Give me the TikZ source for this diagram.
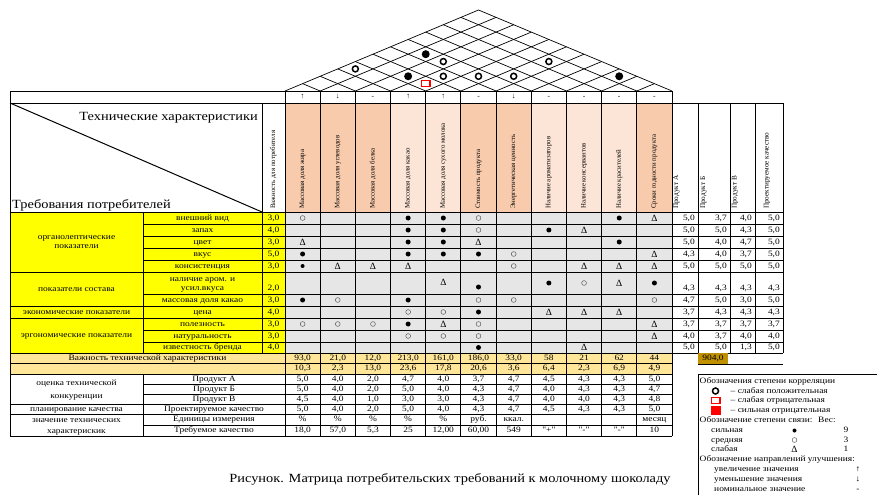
\documentclass[tikz,border=0pt]{standalone}
\usepackage{fontspec}
\setmainfont{Liberation Serif}
\newfontfamily\wfont[FakeStretch=1.15]{Liberation Serif}
\definecolor{salD}{HTML}{F8CBAD}
\definecolor{salL}{HTML}{FCE4D6}
\definecolor{cellG}{HTML}{E6E6E6}
\definecolor{yel}{HTML}{FFFF00}
\definecolor{goldL}{HTML}{FFE699}
\definecolor{goldD}{HTML}{BF9000}
\begin{document}
\begin{tikzpicture}[x=1pt,y=-1pt,
  ln/.style={line width=0.9pt, draw=black},
  tb/.style={font=\wfont\fontsize{8.2}{9}\selectfont, inner sep=0pt, text height=5.6pt, text depth=1.6pt},
  big/.style={font=\wfont\fontsize{12.5}{14}\selectfont, inner sep=0pt},
  rot/.style={rotate=90, anchor=west, inner sep=0pt, font=\fontsize{6.8}{7}\selectfont},
  rotp/.style={rotate=90, anchor=west, inner sep=0pt, font=\fontsize{7.2}{8}\selectfont},
  arr/.style={inner sep=0pt, font=\fontsize{7.5}{8}\selectfont},
  symF/.style={circle, fill=black, inner sep=0pt, minimum size=5pt, node contents={}},
  symf/.style={circle, fill=black, inner sep=0pt, minimum size=4pt, node contents={}},
  symO/.style={circle, draw=black!65, line width=0.5pt, inner sep=0pt, minimum size=4.8pt, node contents={}},
  symT/.style={inner sep=0pt, font=\fontsize{9.5}{9.5}\selectfont, node contents={Δ}},
  rF/.style={circle, fill=black, inner sep=0pt, minimum size=8pt, node contents={}},
  rO/.style={circle, draw=black, line width=1.5pt, inner sep=0pt, minimum size=6pt, node contents={}},
  rS/.style={draw=red, line width=1.5pt, fill=white, inner sep=0pt, minimum width=8.5pt, minimum height=6pt, node contents={}},
  rSF/.style={fill=red, inner sep=0pt, minimum width=10pt, minimum height=8.5pt, node contents={}},
]
\useasboundingbox (0,0) rectangle (877,495);
\fill[white] (0,0) rectangle (877,495);
\def\cw{35.1818}
% ---------- roof ----------
\draw[line width=0.7pt] (285,91) -- (478.5,10) -- (672,91);
\foreach \k in {1,...,10} {
  \pgfmathsetmacro\xk{285+\k*\cw}
  \draw[line width=0.7pt] (\xk,91) -- ({(\xk+672)/2},{91-(672-\xk)/2*0.4186});
  \draw[line width=0.7pt] (\xk,91) -- ({(285+\xk)/2},{91-(\xk-285)/2*0.4186});
}
\foreach \i/\j/\t in {4/5/rS, 3/5/rF, 4/6/rO, 5/7/rO, 6/8/rO, 9/11/rF, 1/4/rO, 2/7/rF, 3/7/rO, 6/10/rO} {
  \pgfmathsetmacro\xx{285+((\i+\j)/2-0.5)*\cw}
  \pgfmathsetmacro\yy{91-(\j-\i)*\cw*0.2093}
  \node (roof-\i-\j) at (\xx,\yy) [\t];
}
% ---------- header ----------
\foreach \k/\c in {1/salD,2/salD,3/salD,4/salL,5/salL,6/salD,7/salD,8/salL,9/salL,10/salL,11/salD}
  \fill[\c] ({285+(\k-1)*\cw},103) rectangle ({285+\k*\cw},212);
\draw[ln] (10,91) rectangle (672,103);
\foreach \k in {0,...,11} \draw[ln] ({285+\k*\cw},91) -- ({285+\k*\cw},212);
\foreach \a [count=\k] in {↑,↓,-,↑,↑,-,↓,-,-,-,-}
  \node[arr] (arrow-\k) at ({285+(\k-0.5)*\cw},97) {\a};
\draw[ln] (10,103) rectangle (262,212);
\draw[line width=1pt] (10,103) -- (262,212);
\draw[ln] (262,103) rectangle (285,212);
\node[big, anchor=east] (tech) at (258,118) {Технические характеристики};
\node[big, anchor=west] (req) at (12,205.5) {Требования потребителей};
\node[rot] (impH) at (273.5,209) {Важность для потребителя};
\foreach \s [count=\k] in {Массовая доля жира, Массовая доля углеводов, Массовая доля белка, Массовая доля какао, Массовая доля сухого молока, Стоимость продукта, Энергетическая ценность, Наличие ароматизаторов, Наличие консервантов, Наличие красителей, Сроки годности продукта}
  \node[rot] (th-\k) at ({285+(\k-0.5)*\cw},209) {\s};
\draw[ln] (672,103) rectangle (783,212);
\foreach \x in {698,730,755} \draw[ln] (\x,103) -- (\x,212);
\node[rotp] (ph-1) at (676.5,209) {Продукт А};
\node[rotp] (ph-2) at (703.5,209) {Продукт Б};
\node[rotp] (ph-3) at (735,209) {Продукт В};
\node[rotp] (ph-4) at (767,209) {Проектируемое качество};
% ---------- body ----------
\fill[yel] (10,212) rectangle (285,353);
\fill[cellG] (285,212) rectangle (672,353);
\foreach \y in {212,224,236,248,260,272,294,306,318,330,342,353}
  \draw[ln] (143,\y) -- (783,\y);
\foreach \y in {212,272,306,318,353} \draw[ln] (10,\y) -- (143,\y);
\foreach \x in {10,143,262,698,730,755,783} \draw[ln] (\x,212) -- (\x,353);
\foreach \k in {0,...,11} \draw[ln] ({285+\k*\cw},212) -- ({285+\k*\cw},353);
\node[tb] (g1a) at (76.5,237.7) {органолептические};
\node[tb] (g1b) at (76.5,246.7) {показатели};
\node[tb] (g2) at (76.5,289) {показатели состава};
\node[tb] (g3) at (76.5,312) {экономические показатели};
\node[tb] (g4) at (76.5,335.5) {эргономические показатели};
\foreach \s/\y [count=\k] in {внешний вид/218, запах/230, цвет/242, вкус/254, консистенция/266, массовая доля какао/300, цена/312, полезность/324, натуральность/336, известность бренда/347.5}
  \node[tb] (r-\k) at (202.5,\y) {\s};
\node[tb] (r-6a) at (202.5,279) {наличие аром. и};
\node[tb] (r-6b) at (202.5,288.5) {усил.вкуса};
\foreach \v/\y [count=\k] in {3/218,4/230,3/242,5/254,3/266,2/288.5,3/300,4/312,3/324,3/336,4/347.5}
  \node[tb] (imp-\k) at (273.5,\y) {\v,0};
% matrix symbols
\foreach \c/\y/\t [count=\n] in {1/218/symO, 4/218/symF, 5/218/symF, 6/218/symO, 10/218/symF, 11/218/symT,
  4/230/symF, 5/230/symF, 6/230/symO, 8/230/symF, 9/230/symT,
  1/242/symT, 4/242/symF, 5/242/symF, 6/242/symT, 10/242/symF,
  1/254/symF, 4/254/symF, 5/254/symF, 6/254/symF, 7/254/symO, 11/254/symT,
  1/266/symf, 2/266/symT, 3/266/symT, 4/266/symT, 7/266/symO, 9/266/symT, 10/266/symT, 11/266/symT,
  5/282/symT, 6/287/symF, 8/283/symF, 9/283/symO, 10/283/symT, 11/283/symF,
  1/300/symF, 2/300/symO, 4/300/symF, 6/300/symO, 7/300/symO, 11/300/symO,
  4/312/symO, 5/312/symO, 6/312/symF, 8/312/symT, 9/312/symT, 10/312/symT,
  1/324/symO, 2/324/symO, 3/324/symO, 4/324/symF, 5/324/symT, 6/324/symO, 11/324/symT,
  4/336/symO, 5/336/symO, 6/336/symO, 11/336/symT,
  6/347.5/symF, 9/347.5/symT}
  \node (m-\n) at ({285+(\c-0.5)*\cw},\y) [\t];
% product values
\foreach \y/\a/\b/\c/\d [count=\r] in {218/{5,0}/{3,7}/{4,0}/{5,0}, 230/{5,0}/{5,0}/{4,3}/{5,0}, 242/{5,0}/{4,0}/{4,7}/{5,0}, 254/{4,3}/{4,0}/{3,7}/{5,0}, 266/{5,0}/{5,0}/{5,0}/{5,0}, 288.5/{4,3}/{4,3}/{4,3}/{4,3}, 300/{4,7}/{5,0}/{3,0}/{5,0}, 312/{3,7}/{4,3}/{4,3}/{4,3}, 324/{3,7}/{3,7}/{3,7}/{3,7}, 336/{4,0}/{3,7}/{4,0}/{4,0}, 347.5/{5,0}/{5,0}/{1,3}/{5,0}} {
  \node[tb, anchor=east] (pa-\r) at (695,\y) {\a};
  \node[tb, anchor=east] (pb-\r) at (727,\y) {\b};
  \node[tb, anchor=east] (pc-\r) at (752,\y) {\c};
  \node[tb, anchor=east] (pd-\r) at (780,\y) {\d};
}
% ---------- bottom ----------
\fill[goldL] (10,353) rectangle (672,374);
\foreach \y in {353,363.5,374,404,414.5,436} \draw[ln] (10,\y) -- (672,\y);
\foreach \y in {384,394,425} \draw[ln] (143,\y) -- (672,\y);
\draw[ln] (10,353) -- (10,436);
\draw[ln] (143,374) -- (143,436);
\foreach \k in {0,...,11} \draw[ln] ({285+\k*\cw},353) -- ({285+\k*\cw},436);
\fill[goldD] (698,353) rectangle (728,364);
\draw[ln] (698,364) -- (783,364);
\node[tb] (total) at (713,358.5) {904,0};
\node[tb] (impT) at (147.5,358.3) {Важность технической характеристики};
\node[tb] (b1a) at (76.5,383.3) {оценка технической};
\node[tb] (b1b) at (76.5,396.5) {конкуренции};
\node[tb] (b2) at (76.5,409.3) {планирование качества};
\node[tb] (b3a) at (76.5,420.5) {значение технических};
\node[tb] (b3b) at (76.5,431) {характерискик};
\foreach \s/\y [count=\k] in {Продукт А/379, Продукт Б/389, Продукт В/399, Проектируемое качество/409.3, Единицы измерения/419.8, Требуемое качество/430.5}
  \node[tb] (bl-\k) at (214,\y) {\s};
\foreach \y/\p/\L in {
  358.3/imp/{{93,0},{21,0},{12,0},{213,0},{161,0},{186,0},{33,0},58,21,62,44},
  368.8/rel/{{10,3},{2,3},{13,0},{23,6},{17,8},{20,6},{3,6},{6,4},{2,3},{6,9},{4,9}},
  379/pA/{{5,0},{4,0},{2,0},{4,7},{4,0},{3,7},{4,7},{4,5},{4,3},{4,3},{5,0}},
  389/pB/{{5,0},{4,0},{2,0},{5,0},{4,0},{4,3},{4,7},{4,0},{4,3},{4,3},{4,7}},
  399/pC/{{4,5},{4,0},{1,0},{3,0},{3,0},{4,3},{4,7},{4,0},{4,0},{4,3},{4,8}},
  409.3/pD/{{5,0},{4,0},{2,0},{5,0},{4,0},{4,3},{4,7},{4,5},{4,3},{4,3},{5,0}},
  419.8/unit/{\%,\%,\%,\%,\%,руб.,ккал.,{},{},{},месяц},
  430.5/req/{{18,0},{57,0},{5,3},25,{12,00},{60,00},549,"+","-","-",10}} {
  \foreach \v [count=\k] in \L
    \node[tb] (\p-\k) at ({285+(\k-0.5)*\cw},\y) {\v};
}
% ---------- legend ----------
\draw[ln] (698,495) -- (698,374) -- (877,374);
\node[tb, anchor=west] (lg1) at (699.5,381.5) {Обозначения степени корреляции};
\node (lgs1) at (715.5,391) [rO];
\node[tb, anchor=west] (lg2) at (730.5,391) {– слабая положительная};
\node (lgs2) at (715.5,400.5) [rS];
\node[tb, anchor=west] (lg3) at (730.5,400.5) {– слабая отрицательная};
\node (lgs3) at (715.5,410.5) [rSF];
\node[tb, anchor=west] (lg4) at (730.5,410.5) {– сильная отрицательная};
\node[tb, anchor=west] (lg5) at (699.5,420.5) {Обозначение степени связи:};
\node[tb, anchor=west] (lg5w) at (818,420.5) {Вес:};
\node[tb, anchor=west] (lg6) at (711,430.5) {сильная};
\node (lgs6) at (794.5,430.5) [symf];
\node[tb] (lg6w) at (846,430.5) {9};
\node[tb, anchor=west] (lg7) at (711,440) {средняя};
\node (lgs7) at (794.5,440) [symO];
\node[tb] (lg7w) at (846,440) {3};
\node[tb, anchor=west] (lg8) at (711,449.5) {слабая};
\node (lgs8) at (794.5,449.5) [symT];
\node[tb] (lg8w) at (846,449.5) {1};
\node[tb, anchor=west] (lg9) at (699.5,459.5) {Обозначение направлений улучшения:};
\node[tb, anchor=west] (lg10) at (714,469.5) {увеличение значения};
\node[tb] (lg10a) at (858,469.5) {↑};
\node[tb, anchor=west] (lg11) at (714,479.5) {уменьшение значения};
\node[tb] (lg11a) at (858,479.5) {↓};
\node[tb, anchor=west] (lg12) at (714,489.5) {номинальное значение};
\node[tb] (lg12a) at (858,489.5) {-};
% ---------- caption ----------
\node[big] (caption) at (450,479) {Рисунок. Матрица потребительских требований к молочному шоколаду};
\end{tikzpicture}
\end{document}
